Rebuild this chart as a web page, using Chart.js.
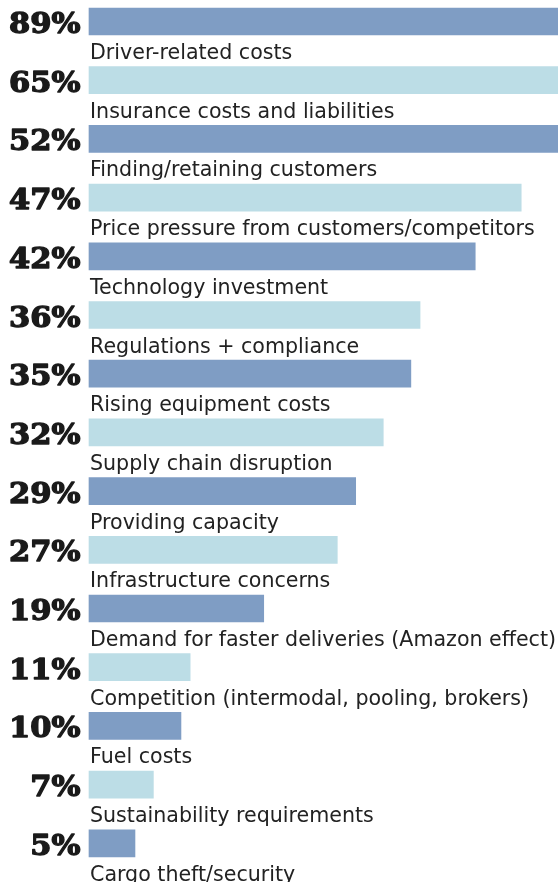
<!DOCTYPE html>
<html>
<head>
<meta charset="utf-8">
<script src="https://cdn.jsdelivr.net/npm/chart.js@4"></script>
<style>
  html, body { margin: 0; padding: 0; background: #fff; }
  canvas { display: block; }
</style>
</head>
<body>
<canvas id="chart" width="558" height="882"></canvas>
<script>
// ── Data ────────────────────────────────────────────────────
const categories = [
    'Driver-related costs',
    'Insurance costs and liabilities',
    'Finding/retaining customers',
    'Price pressure from customers/competitors',
    'Technology investment',
    'Regulations + compliance',
    'Rising equipment costs',
    'Supply chain disruption',
    'Providing capacity',
    'Infrastructure concerns',
    'Demand for faster deliveries (Amazon effect)',
    'Competition (intermodal, pooling, brokers)',
    'Fuel costs',
    'Sustainability requirements',
    'Cargo theft/security'
];
const values = [89, 65, 52, 47, 42, 36, 35, 32, 29, 27, 19, 11, 10, 7, 5];

const DARK  = '#7F9DC4';
const LIGHT = '#BCDDE6';

// ── Labels: percent on the left, category under the bar ────
const labelPlugin = {
    id: 'barLabels',
    afterDatasetsDraw(chart) {
        const ctx = chart.ctx;
        const meta = chart.getDatasetMeta(0);
        meta.data.forEach((bar, i) => {
            const y = bar.y;

            // heavy slab percent, stretched a bit wider
            ctx.save();
            ctx.translate(80.5, y + 11.5);
            ctx.scale(1.13, 1);
            ctx.font = "bold 27px 'DejaVu Serif'";
            ctx.textAlign = 'right';
            ctx.textBaseline = 'alphabetic';
            ctx.fillStyle = '#1a1a1a';
            ctx.strokeStyle = '#1a1a1a';
            ctx.lineWidth = 1.3;
            ctx.lineJoin = 'round';
            ctx.fillText(values[i] + '%', 0, 0);
            ctx.strokeText(values[i] + '%', 0, 0);
            ctx.restore();

            ctx.save();
            ctx.font = "20.6px 'DejaVu Sans'";
            ctx.textAlign = 'left';
            ctx.textBaseline = 'alphabetic';
            ctx.fillStyle = '#222';
            ctx.fillText(categories[i], 90, y + 37.5);
            ctx.restore();
        });
    }
};

new Chart(document.getElementById('chart').getContext('2d'), {
    type: 'bar',
    data: {
        labels: categories,
        datasets: [{
            data: values,
            backgroundColor: values.map((_, i) => i % 2 === 0 ? DARK : LIGHT),
            barThickness: 27,
            borderWidth: 0,
            borderSkipped: false,
            clip: false
        }]
    },
    options: {
        indexAxis: 'y',
        responsive: false,
        animation: false,
        layout: { padding: { left: 89, right: 0, top: 21.5, bottom: 38.7 } },
        plugins: {
            legend: { display: false },
            tooltip: { enabled: false }
        },
        scales: {
            x: { display: false, min: 0, max: 51 },
            y: { display: false, offset: false }
        }
    },
    plugins: [labelPlugin]
});
</script>
</body>
</html>
